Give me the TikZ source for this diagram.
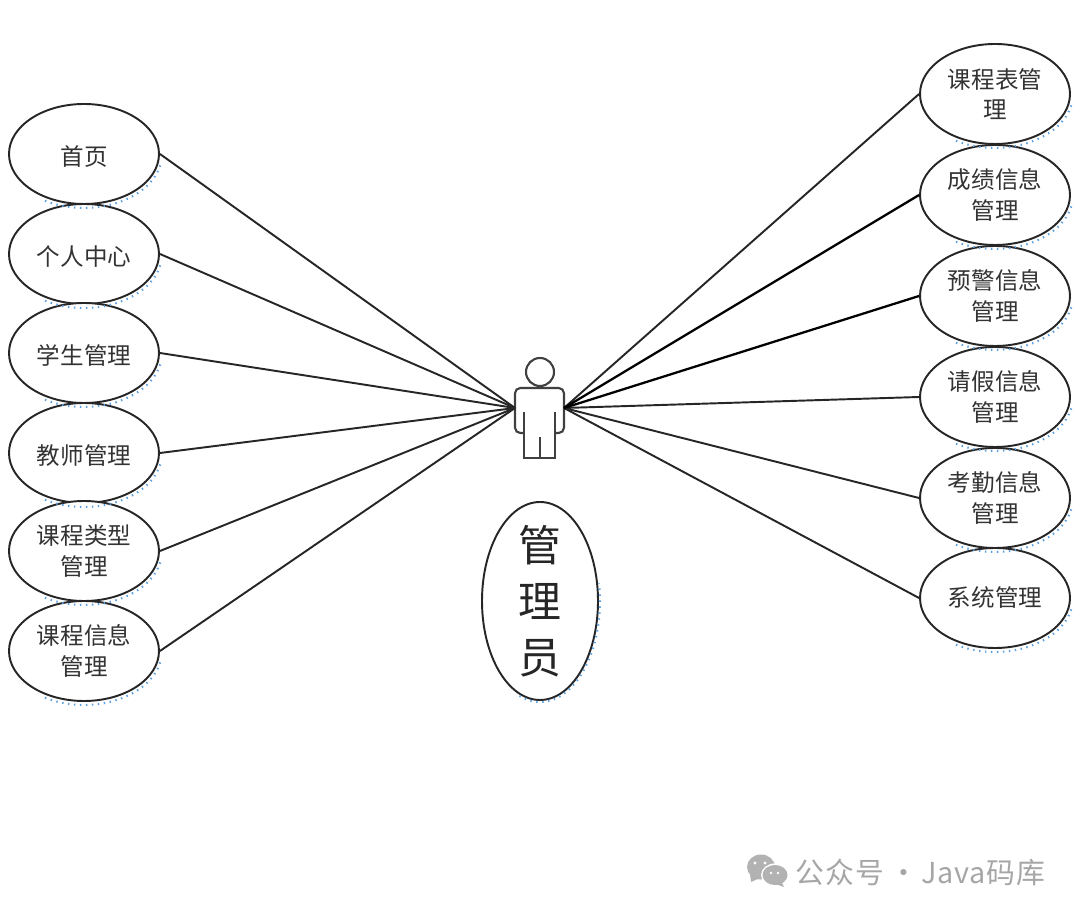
\documentclass[tikz,border=0pt]{standalone}
\usepackage{fontspec}
\setmainfont{Noto Sans CJK SC}
\usetikzlibrary{shapes.geometric}
\definecolor{speckblue}{RGB}{90,160,225}

\begin{document}
\begin{tikzpicture}[
    x=1cm,
    y=1cm,
    usecase/.style={ellipse, draw=black!85, line width=0.55pt, fill=white, minimum width=1.5cm, minimum height=1cm, inner sep=0pt, align=center, text=black!80, font=\fontsize{6.7pt}{8.6pt}\selectfont},
    lowered/.style={execute at begin node={\rule{0pt}{7.1pt}}},
    rolename/.style={ellipse, draw=black!85, line width=0.55pt, fill=white, minimum width=1.16cm, minimum height=1.98cm, inner xsep=0pt, inner ysep=-6pt, align=center, text=black!85, font=\fontsize{12.2pt}{16pt}\selectfont},
    line/.style={draw=black!85, line width=0.55pt},
    heavyline/.style={draw=black, line width=0.65pt},
    actorline/.style={draw=black!75, line width=0.6pt},
    spots/.style={draw=speckblue, line width=0.6pt, dash pattern=on 0.4pt off 1.3pt}
]
\useasboundingbox (0, 0) rectangle (10.8, -9.16);

% left column
\node[usecase, lowered] (home) at (0.84, -1.54) {首页};
\node[usecase, lowered] (center) at (0.84, -2.54) {个人中心};
\node[usecase, lowered] (student) at (0.84, -3.53) {学生管理};
\node[usecase, lowered] (teacher) at (0.84, -4.53) {教师管理};
\node[usecase, lowered] (coursetype) at (0.84, -5.51) {课程类型\\管理};
\node[usecase, lowered] (courseinfo) at (0.84, -6.51) {课程信息\\管理};

% right column
\node[usecase] (timetable) at (9.95, -0.94) {课程表管\\理};
\node[usecase] (grade) at (9.95, -1.95) {成绩信息\\管理};
\node[usecase] (warning) at (9.95, -2.96) {预警信息\\管理};
\node[usecase] (leave) at (9.95, -3.97) {请假信息\\管理};
\node[usecase] (attend) at (9.95, -4.98) {考勤信息\\管理};
\node[usecase] (system) at (9.95, -5.98) {系统管理};

\node[rolename] (admin) at (5.4, -6.01) {管\\理\\员};

% actor
\node[circle, draw=black!75, line width=0.6pt, minimum size=0.28cm, inner sep=0pt] (head) at (5.4, -3.72) {};
\coordinate (handl) at (5.15, -4.08);
\coordinate (handr) at (5.64, -4.08);
\draw[actorline, rounded corners=1.5pt] (5.24, -4.33) -- (5.15, -4.33) -- (5.15, -3.88) -- (5.64, -3.88) -- (5.64, -4.33) -- (5.55, -4.33);
\draw[actorline] (5.24, -4.12) -- (5.24, -4.58) -- (5.55, -4.58) -- (5.55, -4.12);
\draw[actorline] (5.4, -4.37) -- (5.4, -4.58);

% connectors
\foreach \n in {home, center, student, teacher, coursetype, courseinfo}
    \draw[line] (\n.east) -- (handl);
\foreach \n in {timetable, leave, attend, system}
    \draw[line] (\n.west) -- (handr);
\foreach \n in {grade, warning}
    \draw[heavyline] (\n.west) -- (handr);

% blue specks under the ellipses
\foreach \n in {home, center, student, teacher, coursetype, courseinfo, timetable, grade, warning, leave, attend, system}
    \draw[spots] ([shift={(-120:0.78 and 0.54)}]\n.center) arc[start angle=-120, end angle=-10, x radius=0.78, y radius=0.54];
\draw[spots] ([shift={(-110:0.6 and 1.01)}]admin.center) arc[start angle=-110, end angle=10, x radius=0.6, y radius=1.01];

% watermark
\fill[black!30] (7.61, -8.67) ellipse (0.14 and 0.125);
\fill[black!30] (7.5, -8.74) -- (7.51, -8.82) -- (7.6, -8.78) -- cycle;
\fill[white] (7.75, -8.75) ellipse (0.14 and 0.115);
\fill[black!30] (7.75, -8.75) ellipse (0.125 and 0.1);
\fill[black!30] (7.81, -8.81) -- (7.84, -8.87) -- (7.75, -8.84) -- cycle;
\fill[white] (7.55, -8.63) circle (0.016) (7.65, -8.63) circle (0.016) (7.71, -8.73) circle (0.013) (7.78, -8.73) circle (0.013);
\node[anchor=west, inner sep=0pt, text=black!35, font=\fontsize{8.2pt}{10pt}\selectfont\addfontfeature{LetterSpace=3}] (mark) at (7.95, -8.73) {公众号\hspace{1.5pt}·\hspace{0.9pt}Java码库};
\end{tikzpicture}
\end{document}
